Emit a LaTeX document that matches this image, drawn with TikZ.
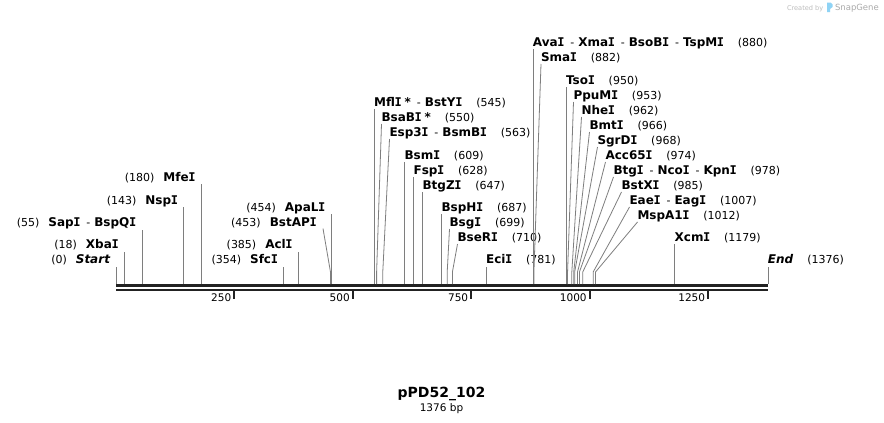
\documentclass[tikz,border=0pt]{standalone}
\usepackage{fontspec}
\setmainfont{DejaVu Sans}
\newfontfamily\serifIfont{DejaVu Sans Mono}
\definecolor{featgray}{HTML}{7E7E7E}
\definecolor{barcol}{HTML}{222222}
\definecolor{wmgray}{HTML}{BDBDBD}
\definecolor{wmblue}{HTML}{8FD3F5}
% enzyme name: bold, ending with a serifed capital I as in the reference
\newcommand\rsenz[1]{{\fontsize{12}{13}\selectfont\bfseries #1{\serifIfont\bfseries\kern-0.03em I\kern-0.02em}}}
\newcommand\rsname[1]{{\fontsize{12}{13}\selectfont\bfseries #1}}
\newcommand\rsnum[1]{{\fontsize{11}{13}\selectfont(#1)}}
\newcommand\rsdash{\hspace{6pt}{\fontsize{11}{13}\selectfont -}\hspace{4pt}}
\newcommand\gapR{\hspace{14pt}}
\newcommand\gapL{\hspace{9pt}}
\newcommand\bpx[1]{116+#1*0.473837}
% right label with straight vertical connector
\newcommand\vlab[4]{%
  \coordinate (f#1) at ({\bpx{#2}},284);
  \node[lab,anchor=base west] (l#1) at ({\bpx{#2}},#3) {#4};
  \draw[feat] (f#1) -- ([yshift=-3pt]l#1.base west);}
% right label with bent connector
\newcommand\slab[5]{%
  \coordinate (f#1) at ({\bpx{#2}},284);
  \coordinate (k#1) at ({\bpx{#2}},272);
  \node[lab,anchor=base west] (l#1) at (#3,#4) {#5};
  \draw[feat] (f#1) -- (k#1) -- ([yshift=-3pt]l#1.base west);}
% left label with straight vertical connector
\newcommand\llab[4]{%
  \coordinate (f#1) at ({\bpx{#2}},284);
  \node[lab,anchor=base east] (l#1) at ({\bpx{#2}-6},#3) {#4};
  \draw[feat] (f#1) -- ([xshift=6pt,yshift=-3pt]l#1.base east);}
\tikzset{
  lab/.style={inner sep=0pt, outer sep=0pt, text=black},
  feat/.style={draw=featgray, line width=0.8pt},
  bar/.style={draw=barcol},
  tickmark/.style={draw=barcol, line width=2pt},
  ticklab/.style={inner sep=0pt, anchor=base east, font=\fontsize{10.5}{12}\selectfont},
}
\begin{document}
\begin{tikzpicture}[x=1pt,y=-1pt]
\useasboundingbox (0,0) rectangle (884,423);
\fill[white] (0,0) rectangle (884,423);

% backbone
\coordinate (a0) at (116,285.3);
\coordinate (a1) at (768.3,285.3);
\coordinate (b0) at (116,289.9);
\coordinate (b1) at (768.3,289.9);
\draw[bar, line width=3.2pt] (a0) -- (a1);
\draw[bar, line width=2.5pt] (b0) -- (b1);

% ticks
\foreach \v in {250,500,750,1000,1250}{
  \coordinate (tk\v) at ({\bpx{\v}},291);
  \coordinate (tb\v) at ({\bpx{\v}},298.5);
  \draw[tickmark] (tk\v) -- (tb\v);
  \node[ticklab] (tl\v) at ({\bpx{\v}-3},301) {\v};
}

% left-side labels
\llab{Start}{0}{263.5}{\rsnum{0}\gapL\rsname{\itshape Start}}
\llab{XbaI}{18}{248.5}{\rsnum{18}\gapL\rsenz{Xba}}
\llab{SapI}{55}{226.5}{\rsnum{55}\gapL\rsenz{Sap}\rsdash\rsenz{BspQ}}
\llab{NspI}{143}{204}{\rsnum{143}\gapL\rsenz{Nsp}}
\llab{MfeI}{180}{181}{\rsnum{180}\gapL\rsenz{Mfe}}
\llab{SfcI}{354}{263.5}{\rsnum{354}\gapL\rsenz{Sfc}}
\llab{AclI}{385}{248.5}{\rsnum{385}\gapL\rsenz{Acl}}
\llab{ApaLI}{454}{211}{\rsnum{454}\gapL\rsenz{ApaL}}
% BstAPI (bent, left side)
\coordinate (fBstAPI) at ({\bpx{453}},284);
\coordinate (kBstAPI) at ({\bpx{453}},273);
\node[lab,anchor=base east] (lBstAPI) at (316.5,226) {\rsnum{453}\gapL\rsenz{BstAP}};
\draw[feat] (fBstAPI) -- (kBstAPI) -- ([xshift=6.5pt,yshift=-2.5pt]lBstAPI.base east);

% middle cluster
\vlab{MflI}{545}{106}{\rsenz{Mfl}\hspace{3pt}\rsname{*}\rsdash\rsenz{BstY}\gapR\rsnum{545}}
\slab{BsaBI}{550}{381.5}{121}{\rsenz{BsaB}\hspace{3pt}\rsname{*}\gapR\rsnum{550}}
\slab{Esp3I}{563}{389.5}{136}{\rsenz{Esp3}\rsdash\rsenz{BsmB}\gapR\rsnum{563}}
\vlab{BsmI}{609}{159}{\rsenz{Bsm}\gapR\rsnum{609}}
\vlab{FspI}{628}{174}{\rsenz{Fsp}\gapR\rsnum{628}}
\vlab{BtgZI}{647}{189}{\rsenz{BtgZ}\gapR\rsnum{647}}
\vlab{BspHI}{687}{211}{\rsenz{BspH}\gapR\rsnum{687}}
\slab{BsgI}{699}{449.5}{226}{\rsenz{Bsg}\gapR\rsnum{699}}
\slab{BseRI}{710}{457.5}{241}{\rsenz{BseR}\gapR\rsnum{710}}
\vlab{EciI}{781}{263.5}{\rsenz{Eci}\gapR\rsnum{781}}

% right cluster
\vlab{AvaI}{880}{46}{\rsenz{Ava}\rsdash\rsenz{Xma}\rsdash\rsenz{BsoB}\rsdash\rsenz{TspM}\gapR\rsnum{880}}
\slab{SmaI}{882}{541}{61}{\rsenz{Sma}\gapR\rsnum{882}}
\vlab{TsoI}{950}{84}{\rsenz{Tso}\gapR\rsnum{950}}
\slab{PpuMI}{953}{573.5}{99}{\rsenz{PpuM}\gapR\rsnum{953}}
\slab{NheI}{962}{581.5}{114}{\rsenz{Nhe}\gapR\rsnum{962}}
\slab{BmtI}{966}{589.5}{129}{\rsenz{Bmt}\gapR\rsnum{966}}
\slab{SgrDI}{968}{597.5}{144}{\rsenz{SgrD}\gapR\rsnum{968}}
\slab{Acc65I}{974}{605.5}{159}{\rsenz{Acc65}\gapR\rsnum{974}}
\slab{BtgI}{978}{613.5}{174}{\rsenz{Btg}\rsdash\rsenz{Nco}\rsdash\rsenz{Kpn}\gapR\rsnum{978}}
\slab{BstXI}{985}{621.5}{189}{\rsenz{BstX}\gapR\rsnum{985}}
\slab{EaeI}{1007}{629.5}{204}{\rsenz{Eae}\rsdash\rsenz{Eag}\gapR\rsnum{1007}}
\slab{MspA}{1012}{637.5}{219}{\rsenz{MspA1}\gapR\rsnum{1012}}
\vlab{XcmI}{1179}{241}{\rsenz{Xcm}\gapR\rsnum{1179}}
\vlab{End}{1376}{263.5}{\rsname{\itshape End}\gapR\rsnum{1376}}

% title
\node[lab,anchor=base,font=\fontsize{14}{16}\selectfont\bfseries] (title) at (441.5,397) {pPD52\_102};
\node[lab,anchor=base,font=\fontsize{10.5}{12}\selectfont] (size) at (441.5,411) {1376 bp};

% watermark
\node[lab,anchor=base west,text=wmgray,font=\fontsize{6.6}{8}\selectfont] (wm1) at (787,10) {Created by};
\fill[wmblue] (827,2.5) -- (830.5,2.5) -- (832.5,4.5) -- (832.5,7) -- (830,9) -- (830,12) -- (827,12) -- cycle;
\node[lab,anchor=base west,text=wmgray!90!black,font=\fontsize{8.5}{10}\selectfont] (wm2) at (835,10.5) {SnapGene};
\end{tikzpicture}
\end{document}
